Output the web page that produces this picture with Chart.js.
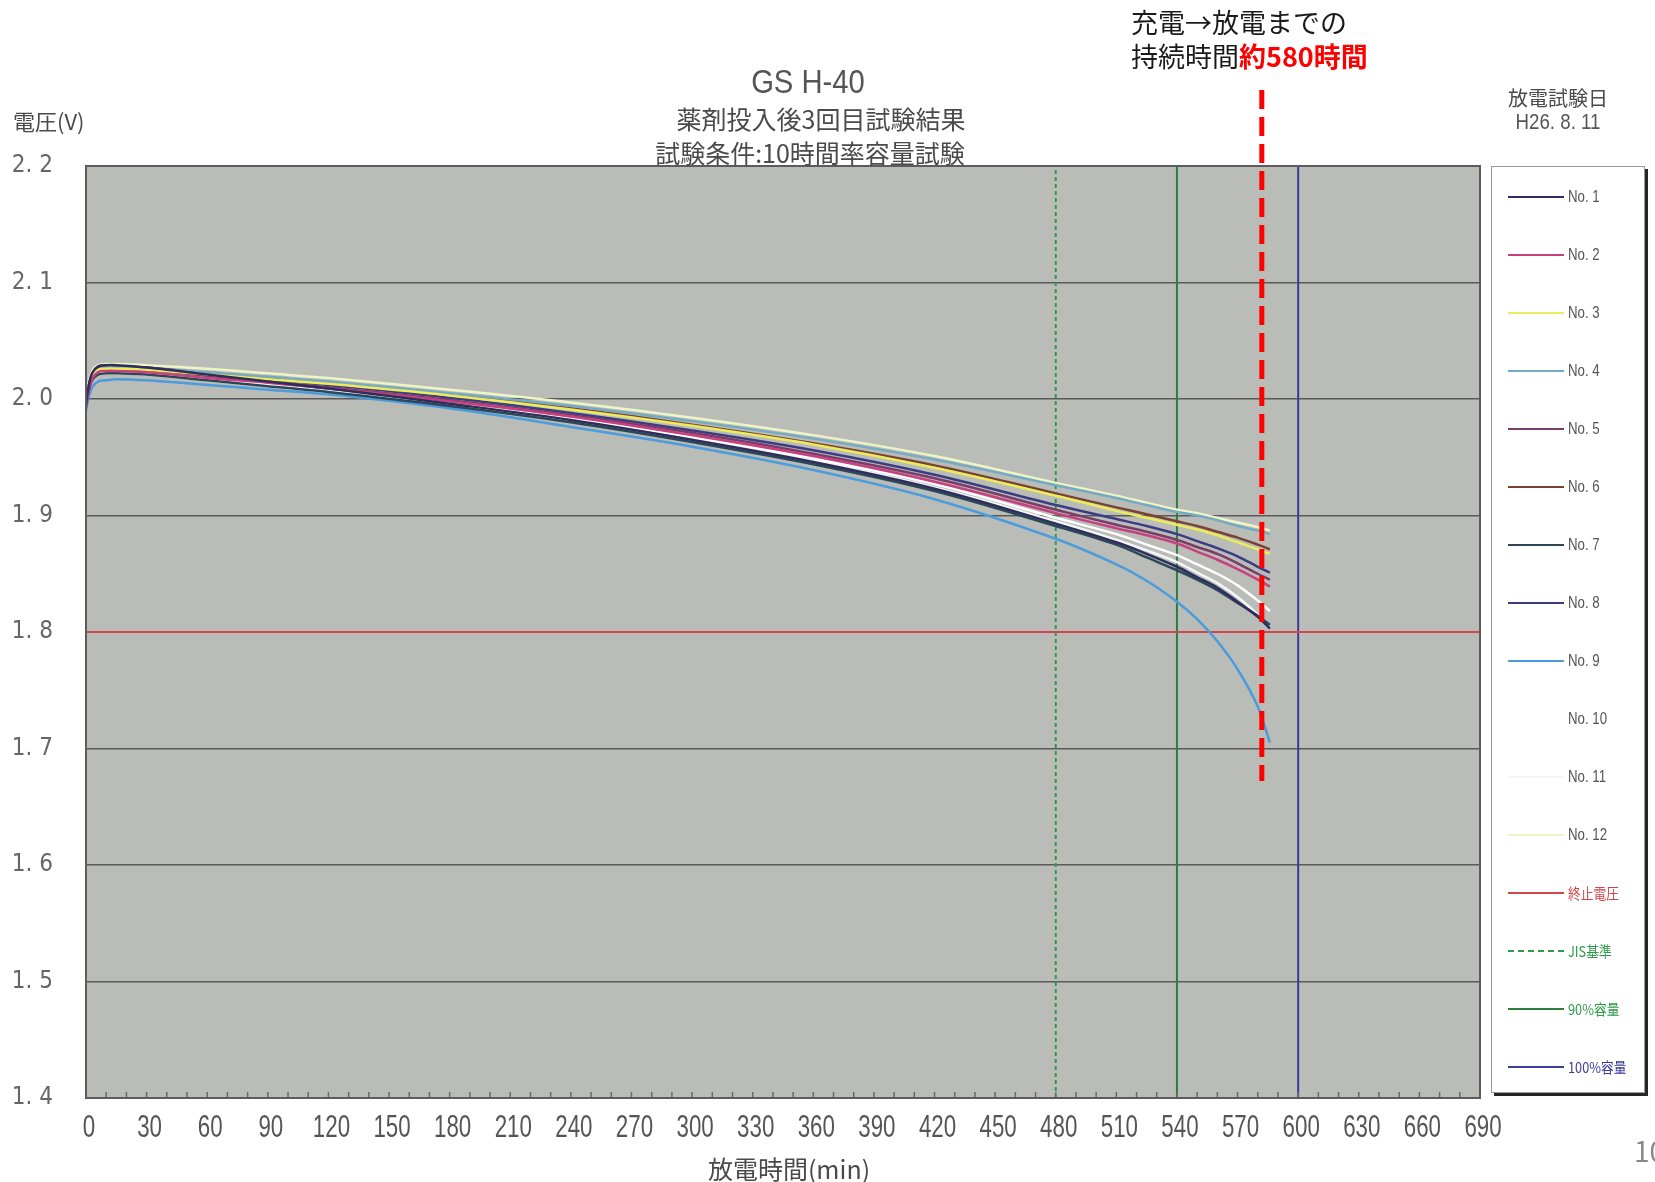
<!DOCTYPE html>
<html lang="ja">
<head>
<meta charset="utf-8">
<title>GS H-40</title>
<script src="https://cdn.jsdelivr.net/npm/chart.js@4.4.1/dist/chart.umd.min.js"></script>
<style>
  html, body { margin: 0; padding: 0; background: #fff; }
  body { width: 1655px; height: 1182px; position: relative; overflow: hidden;
         font-family: "Noto Sans CJK JP", "Noto Sans", sans-serif; }
  #chart { position: absolute; left: 0; top: 0; }
  .txt { position: absolute; white-space: nowrap; line-height: 1; color: #4a4a4a; }
  .c { transform: translate(-50%, -50%); }
  .l { transform: translateY(-50%); }
  .narrow { font-family: "Liberation Sans", Arial, sans-serif; color: #555; }
  #legend { position: absolute; left: 1491px; top: 166px; width: 152px; height: 925px;
            background: #fff; border: 1px solid #9a9a9a; box-shadow: 3px 3px 0 #262626; }
  .item { position: absolute; left: 0; width: 100%; height: 20px; transform: translateY(-50%); }
  .swatch { position: absolute; left: 16px; top: 9px; width: 56px; height: 0; }
  .name { position: absolute; left: 76px; top: 0; line-height: 20px; color: #555; font-size: 15px;
          transform: scaleX(0.85); transform-origin: left center; }
  .name.latin { font: 17px "Liberation Sans", Arial, sans-serif; transform: scaleX(0.78); }
</style>
</head>
<body>
<canvas id="chart" width="1655" height="1182"></canvas>

<div class="txt c narrow" style="left:808px; top:81px; font-size:34px; transform:translate(-50%,-50%) scaleX(0.86);">GS H-40</div>
<div class="txt c" style="left:821px; top:118px; font-size:25px;">薬剤投入後3回目試験結果</div>
<div class="txt c" style="left:810px; top:152px; font-size:25px;">試験条件:10時間率容量試験</div>
<div class="txt l" style="left:13px; top:120px; font-size:22px;">電圧(V)</div>
<div class="txt c" style="left:789px; top:1168px; font-size:25px;">放電時間(min)</div>
<div class="txt c" style="left:1558px; top:98px; font-size:20px;">放電試験日</div>
<div class="txt c narrow" style="left:1558px; top:122px; font-size:22px; transform:translate(-50%,-50%) scaleX(0.85);">H26. 8. 11</div>
<div class="txt l" style="left:1131px; top:21px; font-size:27px; color:#1a1a1a;">充電→放電までの</div>
<div class="txt l" style="left:1131px; top:55px; font-size:27px; color:#1a1a1a;">持続時間<b style="color:#ff0000;">約580時間</b></div>
<div class="txt l" style="left:1634px; top:1150px; font-size:28px; color:#888;">10</div>
<div id="legend"></div>

<script>
// 放電時間 (min)
const minutes = [0, 1, 3, 6, 10, 15, 30, 60, 90, 120, 180, 240, 300, 360, 420, 480, 510, 525, 540, 550, 560, 570, 580, 586];

// 電圧 (V) per cell
const no1  = [1.996, 2.008, 2.022, 2.028, 2.029, 2.029, 2.027, 2.021, 2.015, 2.009, 1.996, 1.982, 1.965, 1.946, 1.923, 1.893, 1.877, 1.867, 1.856, 1.847, 1.838, 1.826, 1.813, 1.803];
const no2  = [1.994, 2.004, 2.017, 2.023, 2.024, 2.024, 2.023, 2.018, 2.014, 2.009, 1.998, 1.985, 1.969, 1.951, 1.929, 1.902, 1.889, 1.883, 1.876, 1.869, 1.862, 1.854, 1.845, 1.839];
const no3  = [1.998, 2.007, 2.019, 2.025, 2.026, 2.026, 2.025, 2.021, 2.017, 2.013, 2.003, 1.991, 1.977, 1.961, 1.941, 1.917, 1.904, 1.898, 1.892, 1.888, 1.883, 1.877, 1.871, 1.867];
const no4  = [2.000, 2.008, 2.020, 2.025, 2.027, 2.027, 2.026, 2.023, 2.019, 2.015, 2.005, 1.994, 1.981, 1.966, 1.948, 1.926, 1.915, 1.909, 1.903, 1.900, 1.896, 1.891, 1.887, 1.884];
const no5  = [1.995, 2.006, 2.019, 2.025, 2.026, 2.026, 2.025, 2.020, 2.015, 2.010, 1.999, 1.986, 1.971, 1.953, 1.932, 1.905, 1.892, 1.886, 1.879, 1.873, 1.867, 1.859, 1.850, 1.845];
const no6  = [1.998, 2.008, 2.020, 2.026, 2.027, 2.027, 2.026, 2.022, 2.018, 2.014, 2.004, 1.992, 1.978, 1.962, 1.943, 1.919, 1.907, 1.901, 1.895, 1.891, 1.886, 1.881, 1.875, 1.871];
const no7  = [1.993, 2.004, 2.016, 2.021, 2.022, 2.022, 2.021, 2.016, 2.011, 2.006, 1.994, 1.980, 1.963, 1.944, 1.921, 1.891, 1.875, 1.864, 1.853, 1.845, 1.836, 1.825, 1.814, 1.806];
const no8  = [1.996, 2.008, 2.021, 2.027, 2.028, 2.028, 2.027, 2.022, 2.017, 2.012, 2.001, 1.988, 1.973, 1.956, 1.935, 1.909, 1.897, 1.891, 1.884, 1.878, 1.872, 1.865, 1.856, 1.851];
const no9  = [1.990, 1.999, 2.010, 2.015, 2.016, 2.017, 2.016, 2.012, 2.008, 2.004, 1.992, 1.976, 1.959, 1.939, 1.914, 1.880, 1.858, 1.844, 1.826, 1.811, 1.792, 1.768, 1.736, 1.705];
const no10 = [1.995, 2.005, 2.017, 2.022, 2.023, 2.023, 2.022, 2.017, 2.012, 2.007, 1.996, 1.983, 1.967, 1.949, 1.927, 1.898, 1.884, 1.875, 1.866, 1.858, 1.850, 1.840, 1.827, 1.818];
const no11 = [1.994, 2.004, 2.016, 2.021, 2.022, 2.022, 2.021, 2.016, 2.011, 2.006, 1.995, 1.981, 1.965, 1.947, 1.924, 1.895, 1.879, 1.870, 1.860, 1.851, 1.842, 1.830, 1.815, 1.804];
const no12 = [2.004, 2.012, 2.024, 2.029, 2.030, 2.030, 2.029, 2.026, 2.022, 2.018, 2.008, 1.997, 1.984, 1.969, 1.951, 1.928, 1.917, 1.911, 1.905, 1.902, 1.898, 1.894, 1.890, 1.887];

const cellNames = ['No. 1', 'No. 2', 'No. 3', 'No. 4', 'No. 5', 'No. 6', 'No. 7', 'No. 8', 'No. 9', 'No. 10', 'No. 11', 'No. 12'];
const cellValues = [no1, no2, no3, no4, no5, no6, no7, no8, no9, no10, no11, no12];
const cellColors = ['#2e2d5c', '#c9407e', '#ecec5a', '#74aac4', '#7a3c68', '#7a4232', '#2a4858', '#3c3c84', '#4b9cdc', '#ffffff', '#f3f5f7', '#eef4c4'];

// reference lines
const cutoffVolt = 1.8;     // 終止電圧
const jisMin = 480;         // JIS基準
const cap90Min = 540;       // 90%容量
const cap100Min = 600;      // 100%容量
const markMin = 582;        // 約580 marker
const markBottomVolt = 1.672;

const xMin = 0, xMax = 690, xStep = 30;
const yMin = 1.4, yMax = 2.2, yStep = 0.1;

const datasets = cellValues.map((vals, i) => ({
  label: cellNames[i],
  data: minutes.map((m, j) => ({ x: m, y: vals[j] })),
  borderColor: cellColors[i],
  borderWidth: 2.5,
  pointRadius: 0,
  tension: 0.35,
  order: 0,
  textColor: '#555'
}));

datasets.push(
  { label: '終止電圧', data: [{ x: xMin, y: cutoffVolt }, { x: xMax, y: cutoffVolt }],
    borderColor: '#d0464a', borderWidth: 2, pointRadius: 0, order: 1, textColor: '#d0464a' },
  { label: 'JIS基準', data: [{ x: jisMin, y: yMin }, { x: jisMin, y: yMax }],
    borderColor: '#2f9a4a', borderWidth: 2, borderDash: [4, 3], pointRadius: 0, order: 1, textColor: '#2f9a4a' },
  { label: '90%容量', data: [{ x: cap90Min, y: yMin }, { x: cap90Min, y: yMax }],
    borderColor: '#2a7e40', borderWidth: 2, pointRadius: 0, order: 1, textColor: '#2f9a4a' },
  { label: '100%容量', data: [{ x: cap100Min, y: yMin }, { x: cap100Min, y: yMax }],
    borderColor: '#3c3c98', borderWidth: 2, pointRadius: 0, order: 1, textColor: '#3c3c98' }
);

// gray plot background, frame, inward minor ticks, narrow x labels, red dashed marker
const plotFrame = {
  id: 'plotFrame',
  beforeDraw(chart) {
    const { ctx, chartArea: a } = chart;
    ctx.save();
    ctx.fillStyle = '#babcb8';
    ctx.fillRect(a.left, a.top, a.right - a.left, a.bottom - a.top);
    ctx.restore();
  },
  afterDatasetsDraw(chart) {
    const { ctx, chartArea: a, scales } = chart;
    ctx.save();
    ctx.strokeStyle = '#6a6a6a';
    ctx.lineWidth = 1.5;
    for (let m = xMin + 10; m < xMax; m += 10) {
      const px = scales.x.getPixelForValue(m);
      ctx.beginPath();
      ctx.moveTo(px, a.bottom);
      ctx.lineTo(px, a.bottom - 6);
      ctx.stroke();
    }
    ctx.strokeStyle = '#5c5c5c';
    ctx.lineWidth = 2;
    ctx.strokeRect(a.left, a.top, a.right - a.left, a.bottom - a.top);
    ctx.restore();
  },
  afterDraw(chart) {
    const { ctx, chartArea: a, scales } = chart;
    ctx.save();
    ctx.fillStyle = '#555';
    ctx.font = '31px "Liberation Sans", Arial, sans-serif';
    ctx.textAlign = 'center';
    ctx.textBaseline = 'middle';
    scales.x.ticks.forEach((t) => {
      ctx.save();
      ctx.translate(scales.x.getPixelForValue(t.value) + 3, a.bottom + 30);
      ctx.scale(0.72, 1);
      ctx.fillText(String(t.value), 0, 0);
      ctx.restore();
    });
    const px = scales.x.getPixelForValue(markMin);
    ctx.strokeStyle = '#ff0000';
    ctx.lineWidth = 5;
    ctx.setLineDash([19, 8]);
    ctx.beginPath();
    ctx.moveTo(px, 90);
    ctx.lineTo(px, scales.y.getPixelForValue(markBottomVolt));
    ctx.stroke();
    ctx.restore();
  }
};

const chart = new Chart(document.getElementById('chart').getContext('2d'), {
  type: 'line',
  data: { datasets },
  options: {
    responsive: false,
    animation: false,
    devicePixelRatio: 1,
    layout: { padding: { left: 0, top: 166, right: 175, bottom: 0 } },
    plugins: { legend: { display: false }, tooltip: { enabled: false } },
    scales: {
      x: {
        type: 'linear',
        min: xMin, max: xMax,
        afterFit: (s) => { s.height = 84; },
        border: { display: false },
        grid: { display: false, drawTicks: false },
        ticks: { stepSize: xStep, autoSkip: false, maxRotation: 0, display: false }
      },
      y: {
        min: yMin, max: yMax,
        afterFit: (s) => { s.width = 86; },
        border: { display: false },
        grid: { color: '#5a5a5a', lineWidth: 1.6, drawTicks: false },
        ticks: {
          stepSize: yStep, padding: 33,
          color: '#666',
          font: { family: "'DejaVu Sans Condensed', sans-serif", size: 24 },
          callback: (v) => Number(v).toFixed(1).replace('.', '. ')
        }
      }
    }
  },
  plugins: [plotFrame]
});

// legend box built from the chart's datasets
const legendBox = document.getElementById('legend');
chart.data.datasets.forEach((ds, i) => {
  const row = document.createElement('div');
  row.className = 'item';
  row.style.top = (30 + i * 58) + 'px';
  const sw = document.createElement('span');
  sw.className = 'swatch';
  sw.style.borderTop = '2px ' + (ds.borderDash ? 'dashed' : 'solid') + ' ' + ds.borderColor;
  const nm = document.createElement('span');
  nm.className = /^No\./.test(ds.label) ? 'name latin' : 'name';
  nm.textContent = ds.label;
  nm.style.color = ds.textColor;
  row.appendChild(sw);
  row.appendChild(nm);
  legendBox.appendChild(row);
});
</script>
</body>
</html>
